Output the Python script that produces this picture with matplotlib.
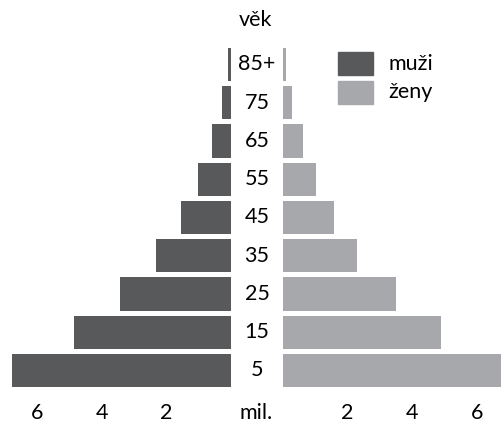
import matplotlib.pyplot as plt

# data (miliony obyvatel)
vek = ["5", "15", "25", "35", "45", "55", "65", "75", "85+"]
muzi = [6.78, 4.86, 3.44, 2.32, 1.55, 1.02, 0.59, 0.29, 0.09]
zeny = [6.80, 4.89, 3.50, 2.29, 1.58, 1.02, 0.62, 0.28, 0.09]
ticks = [2, 4, 6]

c_muzi = "#58595b"
c_zeny = "#a7a8ab"

plt.rcParams["font.family"] = ["Lato", "DejaVu Sans"]
fs = 15.5

W, H = 501, 425
fig = plt.figure(figsize=(W / 100, H / 100), dpi=100)

# y osa: řádek i má střed na pixelu 370.5 - 38.25*i
pitch = 38.25
y_lo = (370.5 - H) / pitch
y_hi = 370.5 / pitch
scale = 32.3  # px na milion

ax_l = fig.add_axes([0, 0, 231 / W, 1])
ax_r = fig.add_axes([283 / W, 0, 218 / W, 1])

pos = list(range(len(vek)))
ax_l.barh(pos, muzi, height=0.863, color=c_muzi)
ax_r.barh(pos, zeny, height=0.863, color=c_zeny)

ax_l.set_xlim(231 / scale, 0)
ax_r.set_xlim(0, 218 / scale)
for ax in (ax_l, ax_r):
    ax.set_ylim(y_lo, y_hi)
    ax.axis("off")

# popisky osy x
y_tick = (370.5 - 413) / pitch
for t in ticks:
    ax_l.text(t, y_tick, str(t), ha="center", va="center", fontsize=fs, clip_on=False)
    ax_r.text(t, y_tick, str(t), ha="center", va="center", fontsize=fs, clip_on=False)
fig.text(256 / W, 1 - 413 / H, "mil.", ha="center", va="center", fontsize=fs)

# věkové skupiny
for i, v in enumerate(vek):
    fig.text(257 / W, 1 - (370.5 - pitch * i) / H, v, ha="center", va="center", fontsize=fs)
fig.text(256 / W, 1 - 20 / H, "věk", ha="center", va="center", fontsize=fs)

# legenda
for yc, col, lab in [(63.5, c_muzi, "muži"), (92.5, c_zeny, "ženy")]:
    fig.patches.append(plt.Rectangle((338 / W, 1 - (yc + 11.5) / H), 35 / W, 23 / H,
                                     color=col, transform=fig.transFigure))
    fig.text(388 / W, 1 - yc / H, lab, ha="left", va="center", fontsize=fs)

fig.savefig("out.png", dpi=100)
